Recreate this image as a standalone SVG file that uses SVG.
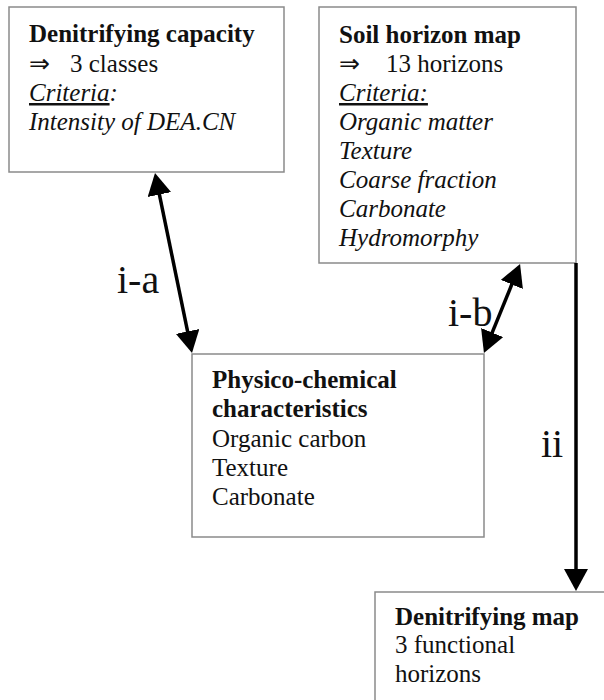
<svg xmlns="http://www.w3.org/2000/svg" width="604" height="700" viewBox="0 0 604 700">
<style>
  .box { fill: #ffffff; stroke: #8a8a8a; stroke-width: 1.5; }
  .t { font-family: "Liberation Serif", "Times New Roman", serif; font-size: 25px; fill: #111; }
  .b { font-weight: bold; }
  .i { font-style: italic; }
  .u { text-decoration: underline; }
  .lbl { font-family: "Liberation Serif", "Times New Roman", serif; font-size: 40px; fill: #111; }
  .conn { stroke: #000; stroke-width: 3.5; fill: none; }
</style>
<defs>
  <marker id="ah" markerUnits="userSpaceOnUse" markerWidth="24" markerHeight="24" refX="12" refY="12" orient="auto-start-reverse">
    <path d="M0,0 L22,12 L0,24 Z" fill="#000"/>
  </marker>
</defs>
<rect width="604" height="700" fill="#ffffff"/>

<g id="node-denitrifying-capacity">
  <rect class="box" x="9" y="7" width="275" height="165"/>
  <text class="t b" x="29" y="42">Denitrifying capacity</text>
  <text class="t" x="29" y="72">⇒</text>
  <text class="t" x="70" y="72">3 classes</text>
  <text class="t i" x="29" y="101"><tspan class="u">Criteria</tspan>:</text>
  <text class="t i" x="29" y="130">Intensity of DEA.CN</text>
</g>

<g id="node-soil-horizon-map">
  <rect class="box" x="319" y="7" width="257" height="256"/>
  <text class="t b" x="339" y="43">Soil horizon map</text>
  <text class="t" x="339" y="72">⇒</text>
  <text class="t" x="386" y="72">13 horizons</text>
  <text class="t i u" x="339" y="101">Criteria:</text>
  <text class="t i" x="339" y="130">Organic matter</text>
  <text class="t i" x="339" y="159">Texture</text>
  <text class="t i" x="339" y="188">Coarse fraction</text>
  <text class="t i" x="339" y="217">Carbonate</text>
  <text class="t i" x="339" y="246">Hydromorphy</text>
</g>

<g id="node-physico-chemical">
  <rect class="box" x="192" y="354" width="292" height="183"/>
  <text class="t b" x="212" y="388">Physico-chemical</text>
  <text class="t b" x="212" y="417">characteristics</text>
  <text class="t" x="212" y="447">Organic carbon</text>
  <text class="t" x="212" y="476">Texture</text>
  <text class="t" x="212" y="505">Carbonate</text>
</g>

<g id="node-denitrifying-map">
  <rect class="box" x="375" y="592" width="240" height="120"/>
  <text class="t b" x="395" y="625">Denitrifying map</text>
  <text class="t" x="395" y="653">3 functional</text>
  <text class="t" x="395" y="682">horizons</text>
</g>

<g id="connectors">
  <line class="conn" x1="157" y1="182.8" x2="190" y2="343.2" marker-start="url(#ah)" marker-end="url(#ah)"/>
  <line class="conn" x1="516.3" y1="273.3" x2="487.7" y2="343.7" marker-start="url(#ah)" marker-end="url(#ah)"/>
  <line class="conn" x1="576" y1="263" x2="576" y2="581" stroke-width="4" marker-end="url(#ah)"/>
  <text class="lbl" x="117" y="293">i-a</text>
  <text class="lbl" x="448" y="326">i-b</text>
  <text class="lbl" x="541" y="457">ii</text>
</g>
</svg>
